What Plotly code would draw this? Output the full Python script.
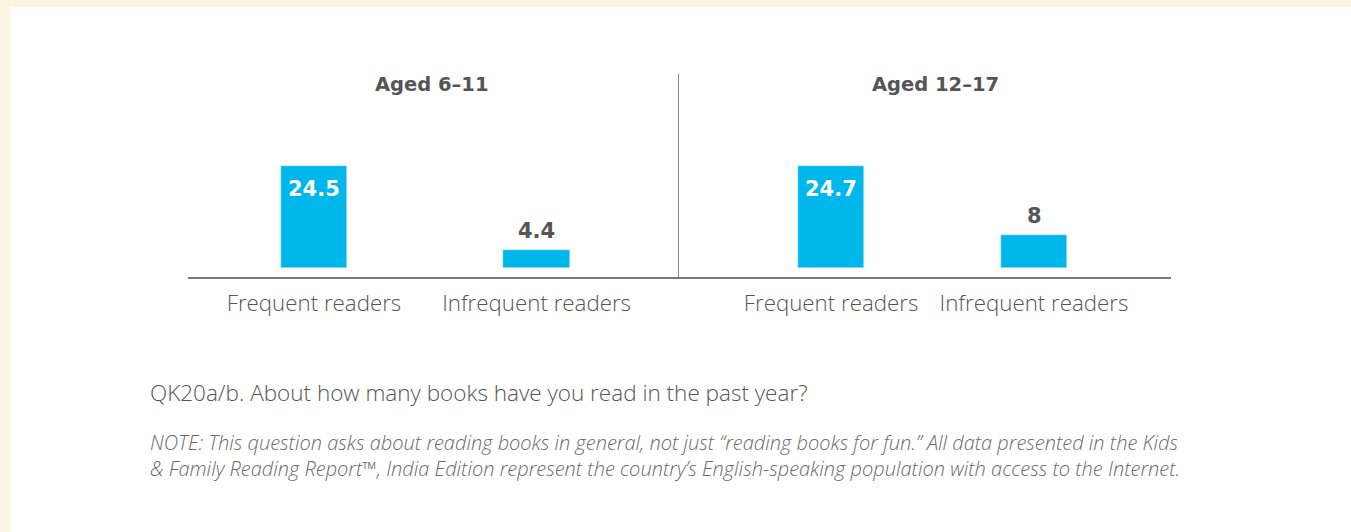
import plotly.graph_objects as go

categories = ["Frequent readers", "Infrequent readers"]
panel_titles = ["Aged 6\u201311", "Aged 12\u201317"]
values_6_11 = [24.5, 4.4]
values_12_17 = [24.7, 8]
question = "QK20a/b. About how many books have you read in the past year?"
note_line1 = ("NOTE: This question asks about reading books in general, not just \u201creading books for fun.\u201d "
              "All data presented in the Kids")
note_line2 = ("& Family Reading Report\u2122, India Edition represent the country\u2019s "
              "English-speaking population with access to the Internet.")

W, H = 1351, 532
BAR = "#00B7EB"
GRAY = "#555555"
FONT = "Open Sans, Lato, sans-serif"
BOLDFONT = "DejaVu Sans, Open Sans, sans-serif"

def px(x):
    return x / W

def py(y):
    return 1 - y / H

fig = go.Figure()
panels = [(values_6_11, "x", "y", 0.30), (values_12_17, "x2", "y2", 0.325)]
for vals, xa, ya, w in panels:
    fig.add_trace(go.Bar(
        x=categories, y=vals, xaxis=xa, yaxis=ya,
        marker_color=BAR, width=w, hoverinfo="x+y",
    ))
    for c, v in zip(categories, vals):
        inside = v > 15
        fig.add_annotation(
            xref=xa, yref=ya, x=c, y=v, text="<b>%s</b>" % v, showarrow=False,
            xanchor="center", yanchor="top" if inside else "bottom",
            yshift=-9 if inside else 5,
            font=dict(family=BOLDFONT, size=21, color="white" if inside else GRAY),
        )

yr = [-2.17, 46.75]
ydom = [py(277), py(74)]
xcommon = dict(showline=True, linecolor="#7a7a7a", linewidth=1.5, showgrid=False,
               zeroline=False, ticks="", ticklabelstandoff=5,
               tickfont=dict(family=FONT, size=22.3, color=GRAY, weight=300),
               fixedrange=True)
fig.update_layout(
    width=W, height=H,
    margin=dict(l=0, r=0, t=0, b=0),
    paper_bgcolor="#FDF5E3",
    plot_bgcolor="rgba(0,0,0,0)",
    showlegend=False,
    bargap=0,
    xaxis=dict(domain=[px(188), px(679)], anchor="y", range=[-0.566, 1.640], **xcommon),
    xaxis2=dict(domain=[px(679), px(1171)], anchor="y2", range=[-0.749, 1.675], **xcommon),
    yaxis=dict(domain=ydom, anchor="x", range=yr, visible=False, fixedrange=True),
    yaxis2=dict(domain=ydom, anchor="x2", range=yr, showline=True, linecolor="#8a8a8a",
                linewidth=1.2, showticklabels=False, showgrid=False, zeroline=False,
                ticks="", fixedrange=True),
    shapes=[dict(type="rect", xref="paper", yref="paper", x0=px(11), x1=1, y0=0, y1=py(7),
                 fillcolor="white", line=dict(width=0), layer="below")],
)

for t, xc in zip(panel_titles, [432, 935]):
    fig.add_annotation(xref="paper", yref="paper", x=px(xc), y=py(84), text="<b>" + t + "</b>",
                       showarrow=False, xanchor="center", yanchor="middle",
                       font=dict(family=BOLDFONT, size=19.5, color=GRAY))

fig.add_annotation(xref="paper", yref="paper", x=px(148), y=py(392), text=question,
                   showarrow=False, xanchor="left", yanchor="middle",
                   font=dict(family=FONT, size=22.5, color=GRAY, weight=300))
fig.add_annotation(xref="paper", yref="paper", x=px(148), y=py(455), align="left",
                   text="<i>" + note_line1 + "<br>" + note_line2 + "</i>",
                   showarrow=False, xanchor="left", yanchor="middle",
                   font=dict(family=FONT, size=20, color="#6a6a6a", weight=300))

fig.write_html("out.html", config=dict(displayModeBar=False),
               post_script="document.body.style.margin='0';document.body.style.overflow='hidden';")
